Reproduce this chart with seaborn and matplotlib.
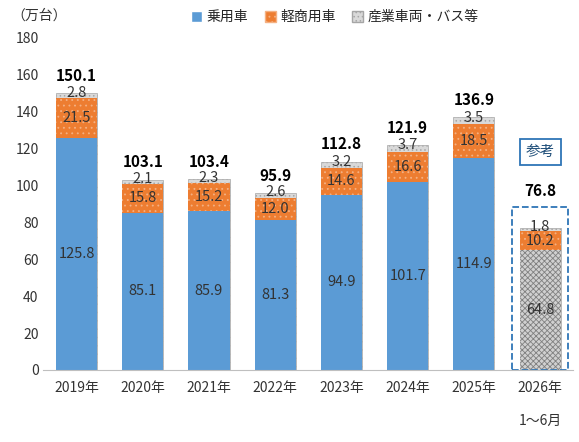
import matplotlib
matplotlib.use("Agg")
import matplotlib.pyplot as plt
import seaborn as sns
import pandas as pd
import numpy as np
from matplotlib.patches import Rectangle, Patch

sns.set_style("white")
plt.rcParams['font.family'] = ['Noto Sans CJK JP', 'DejaVu Sans']
plt.rcParams['hatch.linewidth'] = 0.6

years = ["2019年", "2020年", "2021年", "2022年", "2023年", "2024年", "2025年", "2026年\n\n1～6月"]
passenger = [125.8, 85.1, 85.9, 81.3, 94.9, 101.7, 114.9, 64.8]
light = [21.5, 15.8, 15.2, 12.0, 14.6, 16.6, 18.5, 10.2]
other = [2.8, 2.1, 2.3, 2.6, 3.2, 3.7, 3.5, 1.8]
totals = [150.1, 103.1, 103.4, 95.9, 112.8, 121.9, 136.9, 76.8]

df = pd.DataFrame({"year": years, "p": passenger, "l": light, "o": other})
df["pl"] = df["p"] + df["l"]
df["plo"] = df["pl"] + df["o"]

fig, ax = plt.subplots(figsize=(5.79, 4.42), dpi=100)
blue, orange, gray = "#5B9BD5", "#ED7D31", "#D9D9D9"
w = 0.62
sns.barplot(data=df, x="year", y="plo", color=gray, width=w, ax=ax, edgecolor="#A6A6A6", linewidth=0.5, hatch="....", saturation=1)
sns.barplot(data=df, x="year", y="pl", color=orange, width=w, ax=ax, edgecolor="#F4B183", linewidth=0, hatch="...", saturation=1)
sns.barplot(data=df, x="year", y="p", color=blue, width=w, ax=ax, linewidth=0, saturation=1)
n = len(years)
bottom_bars = ax.patches[2*n:3*n]
bottom_bars[-1].set_facecolor("#D0D0D0")
bottom_bars[-1].set_hatch("xxxxxx")
bottom_bars[-1].set_edgecolor("#808080")

for i in range(n):
    ax.text(i, passenger[i]/2, f"{passenger[i]:.1f}", ha="center", va="center", fontsize=10.5, color="#333333")
    ax.text(i, passenger[i]+light[i]/2, f"{light[i]:.1f}", ha="center", va="center", fontsize=10.5, color="#333333")
    ax.text(i, passenger[i]+light[i]+other[i]/2+1.5, f"{other[i]:.1f}", ha="center", va="center", fontsize=10.5, color="#333333")
    off = 16 if i == n-1 else 5
    ax.text(i, totals[i]+off, f"{totals[i]:.1f}", ha="center", va="bottom", fontsize=11, fontweight="bold", color="#000000")

ax.set_ylim(0, 180)
ax.set_yticks(range(0, 181, 20))
ax.set_xlim(-0.5, n-0.5)
ax.set_xlabel("")
ax.set_ylabel("")
ax.tick_params(axis="both", labelsize=10, length=0, colors="#333333")
ax.tick_params(axis="x", pad=8)
for s in ["top", "right", "left"]:
    ax.spines[s].set_visible(False)
ax.spines["bottom"].set_color("#BFBFBF")

ax.add_patch(Rectangle((n-1-0.42, 0), 0.84, 88, fill=False, ls="--", lw=1.3, ec="#2E75B6", clip_on=False))
ax.text(n-1, 118, "参考", ha="center", va="center", fontsize=10.5, color="#1F4E79",
        bbox=dict(boxstyle="square,pad=0.4", fc="white", ec="#2E75B6", lw=1.3))

handles = [Patch(fc=blue), Patch(fc=orange, hatch="...", ec="#F4B183"), Patch(fc=gray, hatch="....", ec="#A6A6A6")]
ax.legend(handles, ["乗用車", "軽商用車", "産業車両・バス等"], loc="upper center", bbox_to_anchor=(0.55, 1.12),
          ncol=3, frameon=False, fontsize=10, handlelength=0.8, handleheight=0.8, columnspacing=1.2, handletextpad=0.3)
fig.text(0.02, 0.955, "（万台）", fontsize=10, color="#333333")
fig.subplots_adjust(left=0.075, right=0.99, top=0.915, bottom=0.163)
fig.savefig("out.png", dpi=100)
